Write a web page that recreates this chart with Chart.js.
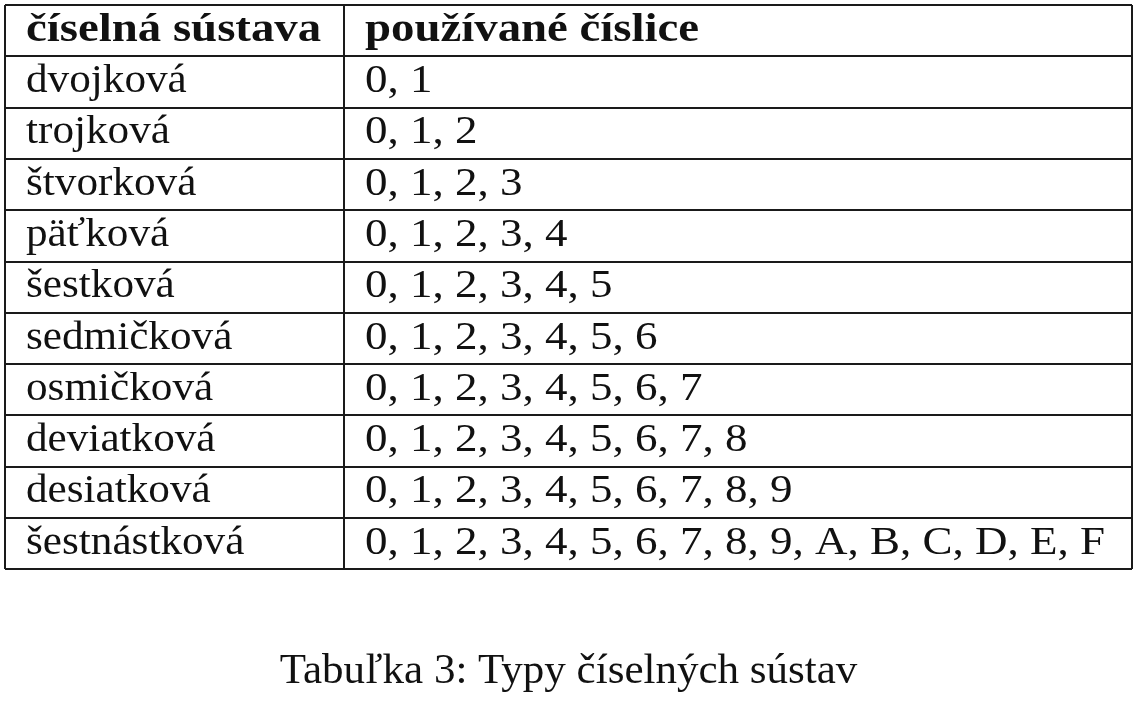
<!DOCTYPE html>
<html>
<head>
<meta charset="utf-8">
<script src="https://cdn.jsdelivr.net/npm/chart.js@4"></script>
<style>
  html, body { margin: 0; padding: 0; background: #fff; }
  #wrap { width: 1141px; height: 701px; }
</style>
</head>
<body>
<div id="wrap"><canvas id="table"></canvas></div>
<script>
// table content
const headers = ['číselná sústava', 'používané číslice'];
const systems = ['dvojková', 'trojková', 'štvorková', 'päťková', 'šestková',
    'sedmičková', 'osmičková', 'deviatková', 'desiatková', 'šestnástková'];
const digits = [
    '0, 1',
    '0, 1, 2',
    '0, 1, 2, 3',
    '0, 1, 2, 3, 4',
    '0, 1, 2, 3, 4, 5',
    '0, 1, 2, 3, 4, 5, 6',
    '0, 1, 2, 3, 4, 5, 6, 7',
    '0, 1, 2, 3, 4, 5, 6, 7, 8',
    '0, 1, 2, 3, 4, 5, 6, 7, 8, 9',
    '0, 1, 2, 3, 4, 5, 6, 7, 8, 9, A, B, C, D, E, F'
];
const caption = 'Tabuľka 3: Typy číselných sústav';

// layout: column edges in table units (x scale), one row per unit (y scale)
const colEdges = [0, 339, 1127];
const FONT = "'Liberation Serif', 'Times New Roman', serif";
const INK = '#111';

function cell(col, row, label) {
    return { x: colEdges[col], y: row + 0.5, label: label };
}

const headerCells = headers.map((h, i) => cell(i, 0, h));
const nameCells = systems.map((s, i) => cell(0, i + 1, s));
const digitCells = digits.map((d, i) => cell(1, i + 1, d));

// draws the cell text at the points placed by the scales
// (stretch widens the Times-like face towards the wider original)
const cellText = {
    id: 'cellText',
    afterDatasetsDraw(chart) {
        const ctx = chart.ctx;
        chart.data.datasets.forEach((ds, di) => {
            const meta = chart.getDatasetMeta(di);
            meta.data.forEach((pt, i) => {
                ctx.save();
                ctx.fillStyle = INK;
                ctx.textBaseline = 'alphabetic';
                ctx.font = (ds.bold ? 'bold ' : '') + '40px ' + FONT;
                ctx.translate(pt.x + 21, pt.y + 10);
                ctx.scale(ds.stretch, 1);
                ctx.fillText(ds.data[i].label, 0, 0);
                ctx.restore();
            });
        });
    }
};

const gridStyle = {
    color: '#1a1a1a',
    lineWidth: 2,
    drawTicks: false
};

new Chart(document.getElementById('table'), {
    type: 'scatter',
    data: {
        datasets: [
            { data: headerCells, bold: true, stretch: 1.17, pointRadius: 0 },
            { data: nameCells, stretch: 1.08, pointRadius: 0 },
            { data: digitCells, stretch: 1.125, pointRadius: 0 }
        ]
    },
    options: {
        responsive: true,
        maintainAspectRatio: false,
        animation: false,
        events: [],
        layout: { padding: { left: 5, top: 5, right: 9, bottom: 0 } },
        scales: {
            x: {
                type: 'linear',
                min: colEdges[0],
                max: colEdges[colEdges.length - 1],
                afterBuildTicks: (axis) => {
                    axis.ticks = colEdges.map(v => ({ value: v }));
                },
                grid: gridStyle,
                border: { display: false },
                ticks: { display: false }
            },
            y: {
                type: 'linear',
                min: 0,
                max: systems.length + 1,
                reverse: true,
                ticks: { display: false, stepSize: 1 },
                grid: gridStyle,
                border: { display: false }
            }
        },
        plugins: {
            legend: { display: false },
            tooltip: { enabled: false },
            title: {
                display: true,
                position: 'bottom',
                text: caption,
                color: INK,
                font: { family: FONT, size: 43, weight: 'normal', lineHeight: 1.2 },
                padding: { top: 77, bottom: 3 }
            }
        }
    },
    plugins: [cellText]
});
</script>
</body>
</html>
